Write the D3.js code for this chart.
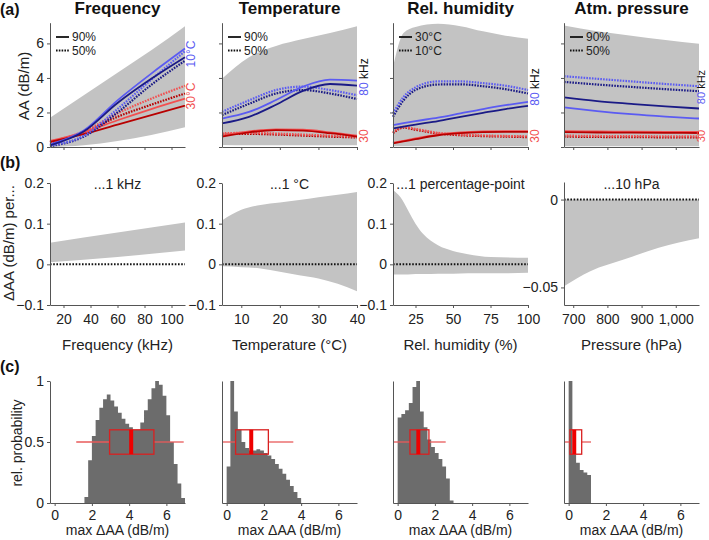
<!DOCTYPE html>
<html><head><meta charset="utf-8">
<script src="https://cdn.jsdelivr.net/npm/d3@7"></script>
<style>
body{margin:0;background:#fff;}
text{font-family:"Liberation Sans",Arial,Helvetica,sans-serif;}
</style>
</head><body>
<svg id="c" width="709" height="540"></svg>
<script>
// ---------------- DATA ----------------
const panelTitles = ["Frequency", "Temperature", "Rel. humidity", "Atm. pressure"];
const rowBSubtitles = ["...1 kHz", "...1 °C", "...1 percentage-point", "...10 hPa"];
const rowBXTitles = ["Frequency (kHz)", "Temperature (°C)", "Rel. humidity (%)", "Pressure (hPa)"];

// x ticks
const freqTicks = [20, 40, 60, 80, 100];
const tempTicks = [10, 20, 30, 40];
const humTicks = [25, 50, 75, 100];
const presTicks = [700, 800, 900, 1000];
const aaTicks = [0, 2, 4, 6];
const dAATicks = [-0.1, 0, 0.1, 0.2];
const dAAPresTicks = [-0.05, 0];
const probTicks = [0, 0.5, 1];
const maxDAATicks = [0, 2, 4, 6];

// ----- row (a): Frequency panel (blue = 10°C, red = 30°C; solid 90%, dotted 50%)
const freqKHz = [10, 35, 60, 85, 110];
const freqBlueLightSolid = [0.15, 0.95, 2.7, 4.25, 5.7];
const freqNavySolid = [0.1, 0.9, 2.55, 3.95, 5.2];
const freqBlueLightDot = [0.1, 0.65, 2.2, 3.9, 5.55];
const freqNavyDot = [0.05, 0.6, 2.0, 3.6, 5.0];
const freqRedLightSolid = [0.35, 0.85, 1.55, 2.2, 2.8];
const freqRedDarkSolid = [0.3, 0.75, 1.3, 1.85, 2.4];
const freqRedLightDot = [0.3, 0.9, 1.95, 2.8, 3.55];
const freqRedDarkDot = [0.25, 0.85, 1.75, 2.45, 3.1];
const freqBandUpper = [1.7, 3.0, 4.3, 5.6, 7.0];
const freqBandLower = [0.0, 0.1, 0.35, 0.7, 1.15];

// ----- row (a): Temperature panel (blue = 80 kHz, red = 30 kHz)
const tempC = [5, 12, 19, 26, 33, 40];
const tempNavySolid = [1.37, 1.75, 2.45, 3.25, 3.65, 3.55];
const tempBlueLightSolid = [1.65, 2.03, 2.72, 3.5, 3.9, 3.85];
const tempBlueLightDot = [2.04, 2.7, 3.3, 3.5, 3.3, 3.0];
const tempNavyDot = [1.85, 2.5, 3.1, 3.3, 3.1, 2.78];
const tempRedDarkSolid = [0.6, 0.85, 0.98, 0.95, 0.8, 0.6];
const tempRedLightSolid = [0.65, 0.9, 1.02, 1.0, 0.85, 0.65];
const tempRedLightDot = [0.8, 0.82, 0.78, 0.72, 0.66, 0.6];
const tempRedDarkDot = [0.75, 0.76, 0.72, 0.66, 0.6, 0.55];
const tempBandUpper = [3.95, 5.2, 5.85, 6.25, 6.6, 7.0];
const tempBandLower = [0.12, 0.1, 0.1, 0.1, 0.1, 0.1];

// ----- row (a): Rel. humidity panel (solid 30°C, dotted 10°C)
const humPct = [10, 17, 25, 40, 55, 70, 85, 100];
const humBlueLightDot = [1.94, 2.9, 3.45, 3.8, 3.8, 3.7, 3.55, 3.3];
const humNavyDot = [1.75, 2.7, 3.3, 3.62, 3.63, 3.52, 3.35, 3.1];
const humBlueLightSolid = [1.27, 1.38, 1.5, 1.7, 1.95, 2.2, 2.42, 2.62];
const humNavySolid = [1.08, 1.18, 1.3, 1.5, 1.75, 1.98, 2.2, 2.38];
const humRedDarkSolid = [0.21, 0.32, 0.45, 0.68, 0.8, 0.86, 0.88, 0.88];
const humRedLightSolid = [0.25, 0.36, 0.5, 0.72, 0.84, 0.9, 0.92, 0.92];
const humRedLightDot = [0.85, 1.17, 1.05, 0.82, 0.72, 0.67, 0.64, 0.62];
const humRedDarkDot = [0.8, 1.12, 1.0, 0.78, 0.68, 0.63, 0.6, 0.57];
const humBandUpper = [4.63, 6.6, 6.95, 7.14, 7.0, 6.7, 6.45, 6.27];
const humBandLower = [0.05, 0.05, 0.05, 0.05, 0.05, 0.05, 0.05, 0.05];

// ----- row (a): Atm. pressure panel
const presHPa = [673, 770, 870, 970, 1068];
const presBlueLightDot = [4.1, 3.95, 3.8, 3.65, 3.52];
const presNavyDot = [3.77, 3.62, 3.48, 3.35, 3.23];
const presNavySolid = [2.87, 2.66, 2.5, 2.35, 2.23];
const presBlueLightSolid = [2.29, 2.08, 1.9, 1.76, 1.65];
const presRedLightSolid = [0.92, 0.9, 0.89, 0.88, 0.87];
const presRedDarkSolid = [0.86, 0.84, 0.83, 0.82, 0.81];
const presRedLightDot = [0.66, 0.64, 0.63, 0.62, 0.61];
const presRedDarkDot = [0.6, 0.58, 0.57, 0.56, 0.55];
const presBandUpper = [7.04, 6.7, 6.45, 6.2, 5.98];
const presBandLower = [0.05, 0.05, 0.05, 0.05, 0.05];

// ----- row (b): sensitivity bands
const bFreqX = [10, 60, 110];
const bFreqUpper = [0.053, 0.078, 0.103];
const bFreqLower = [0.005, 0.018, 0.034];
const bTempX = [5, 10, 15, 20, 25, 30, 35, 40];
const bTempUpper = [0.108, 0.134, 0.146, 0.152, 0.158, 0.165, 0.171, 0.178];
const bTempLower = [-0.005, -0.007, -0.01, -0.018, -0.027, -0.035, -0.048, -0.066];
const bHumX = [10, 15, 20, 25, 30, 40, 50, 60, 75, 100];
const bHumUpper = [0.182, 0.165, 0.133, 0.1, 0.075, 0.047, 0.033, 0.025, 0.018, 0.016];
const bHumLower = [-0.025, -0.025, -0.025, -0.024, -0.024, -0.023, -0.023, -0.022, -0.022, -0.021];
const bPresX = [673, 750, 850, 950, 1068];
const bPresUpper = [0, 0, 0, 0, 0];
const bPresLower = [-0.0494, -0.0408, -0.034, -0.0274, -0.022];

// ----- row (c): histograms (bin left edges, width 0.2) and box plots
const histBinWidth = 0.2;
const histFreqBins = [1.6,1.8,2.0,2.2,2.4,2.6,2.8,3.0,3.2,3.4,3.6,3.8,4.0,4.2,4.4,4.6,4.8,5.0,5.2,5.4,5.6,5.8,6.0,6.2,6.4,6.6,6.8];
const histFreqProb = [0.05,0.35,0.55,0.68,0.78,0.85,0.89,0.84,0.79,0.74,0.69,0.65,0.62,0.60,0.60,0.66,0.76,0.85,0.94,1.0,0.97,0.88,0.72,0.50,0.32,0.16,0.04];
const histTempBins = [0.0,0.2,0.4,0.6,0.8,1.0,1.2,1.4,1.6,1.8,2.0,2.2,2.4,2.6,2.8,3.0,3.2,3.4,3.6,3.8];
const histTempProb = [0.3,1.0,0.75,0.6,0.5,0.45,0.43,0.43,0.44,0.43,0.41,0.39,0.36,0.32,0.28,0.24,0.19,0.14,0.09,0.04];
const histHumBins = [0.0,0.2,0.4,0.6,0.8,1.0,1.2,1.4,1.6,1.8,2.0,2.2,2.4,2.6,2.8];
const histHumProb = [0.7,0.73,0.76,0.82,0.95,1.0,0.75,0.62,0.52,0.46,0.41,0.36,0.30,0.2,0.02];
const histPresBins = [0.0,0.2,0.4,0.6,0.8,1.0];
const histPresProb = [1.0,0.4,0.33,0.27,0.25,0.23];
// box: [whiskerLow, q1, median, q3, whiskerHigh]
const boxFreq = [1.16, 2.95, 4.11, 5.33, 6.93];
const boxTemp = [-0.2, 0.48, 1.32, 2.24, 3.58];
const boxHum = [-0.22, 0.66, 1.11, 1.68, 2.58];
const boxPres = [-0.22, 0.07, 0.3, 0.7, 1.2];

// ---------------- LAYOUT ----------------
const svg = d3.select("#c");
const X0 = [50, 222, 393, 564];
const PW = 135;
const FONT = '"Liberation Sans",Arial,Helvetica,sans-serif';
const AXC = "#555";
const TXC = "#222";
const BAND = "#c3c3c3";
const NAVY = "#1a1a86", LBLUE = "#5b5bf2", DRED = "#b80000", LRED = "#f25050";

const xDomains = [[10, 110], [5, 40], [10, 100], [673, 1068]];
const xTicksAll = [freqTicks, tempTicks, humTicks, presTicks];

function styleAxis(sel, fs) {
  sel.select(".domain").attr("stroke", AXC).attr("stroke-width", 1);
  sel.selectAll(".tick line").attr("stroke", AXC);
  sel.selectAll(".tick text").attr("fill", TXC).style("font-size", fs + "px").style("font-family", FONT);
}
const fmtG = d => d === 0 ? "0" : d3.format("~g")(d).replace("-", "\u2212");

// ---------- ROW A ----------
const yA = d3.scaleLinear().domain([0, 7.2]).range([147, 22.7]);
const rowA = [
  {x: freqKHz, up: freqBandUpper, lo: freqBandLower,
   lines: [[freqRedDarkDot, DRED, 1], [freqRedLightDot, LRED, 1], [freqRedLightSolid, LRED, 0], [freqRedDarkSolid, DRED, 0],
           [freqNavyDot, NAVY, 1], [freqBlueLightDot, LBLUE, 1], [freqBlueLightSolid, LBLUE, 0], [freqNavySolid, NAVY, 0]]},
  {x: tempC, up: tempBandUpper, lo: tempBandLower,
   lines: [[tempRedDarkDot, DRED, 1], [tempRedLightDot, LRED, 1], [tempRedLightSolid, LRED, 0], [tempRedDarkSolid, DRED, 0],
           [tempNavyDot, NAVY, 1], [tempBlueLightDot, LBLUE, 1], [tempBlueLightSolid, LBLUE, 0], [tempNavySolid, NAVY, 0]]},
  {x: humPct, up: humBandUpper, lo: humBandLower,
   lines: [[humRedDarkDot, DRED, 1], [humRedLightDot, LRED, 1], [humRedLightSolid, LRED, 0], [humRedDarkSolid, DRED, 0],
           [humNavyDot, NAVY, 1], [humBlueLightDot, LBLUE, 1], [humBlueLightSolid, LBLUE, 0], [humNavySolid, NAVY, 0]]},
  {x: presHPa, up: presBandUpper, lo: presBandLower,
   lines: [[presRedDarkDot, DRED, 1], [presRedLightDot, LRED, 1], [presRedLightSolid, LRED, 0], [presRedDarkSolid, DRED, 0],
           [presNavyDot, NAVY, 1], [presBlueLightDot, LBLUE, 1], [presBlueLightSolid, LBLUE, 0], [presNavySolid, NAVY, 0]]}
];
const legendA = [["90%", "50%"], ["90%", "50%"], ["30°C", "10°C"], ["90%", "50%"]];

rowA.forEach((p, i) => {
  const x = d3.scaleLinear().domain(xDomains[i]).range([X0[i], X0[i] + PW]);
  const g = svg.append("g");
  const area = d3.area().x((d, k) => x(p.x[k])).y0((d, k) => yA(p.lo[k])).y1((d, k) => yA(p.up[k])).curve(d3.curveMonotoneX);
  g.append("path").attr("d", area(p.x)).attr("fill", BAND);
  p.lines.forEach(([vals, col, dot]) => {
    const line = d3.line().x((d, k) => x(p.x[k])).y(d => yA(d)).curve(d3.curveMonotoneX);
    g.append("path").attr("d", line(vals)).attr("fill", "none").attr("stroke", col)
      .attr("stroke-width", dot ? 2.2 : 1.8).attr("stroke-dasharray", dot ? "1.6,1.2" : null);
  });
  const xa = d3.axisBottom(x).tickValues(xTicksAll[i]).tickSize(3).tickSizeOuter(0).tickFormat("");
  styleAxis(g.append("g").attr("transform", `translate(0,${yA(0)})`).call(xa), 13);
  const ya = d3.axisLeft(yA).tickValues(aaTicks).tickSize(3).tickSizeOuter(0).tickPadding(3)
    .tickFormat(i === 0 ? fmtG : "");
  styleAxis(g.append("g").attr("transform", `translate(${X0[i]},0)`).call(ya), 14);
  // title
  svg.append("text").attr("x", X0[i] + PW / 2).attr("y", 14).attr("text-anchor", "middle")
    .attr("font-weight", "bold").attr("font-size", 17).attr("fill", "#111").text(panelTitles[i]);
  // legend
  const lx = X0[i] + 6;
  [0, 1].forEach(k => {
    const ly = 37 + k * 13.5;
    g.append("line").attr("x1", lx).attr("x2", lx + 13).attr("y1", ly).attr("y2", ly)
      .attr("stroke", "#111").attr("stroke-width", k ? 2.2 : 1.8).attr("stroke-dasharray", k ? "1.6,1.2" : null);
    g.append("text").attr("x", lx + 16).attr("y", ly + 4.3).attr("font-size", 12).attr("fill", TXC).text(legendA[i][k]);
  });
});

// right-side rotated labels, row A
function rotText(x, y, fs) {
  return svg.append("text").attr("transform", `translate(${x},${y}) rotate(-90)`).attr("text-anchor", "middle").attr("font-size", fs || 12);
}
rotText(195, 54).attr("fill", LBLUE).text("10°C");
rotText(195, 96).attr("fill", LRED).text("30°C");
const kHzY = [77, 87, 87];
const kHzX = [368, 539, 705];
[1, 2, 3].forEach((i, j) => {
  const fs = j === 2 ? 11 : 12;
  const t = rotText(kHzX[j], kHzY[j], fs);
  t.append("tspan").attr("fill", LBLUE).text("80");
  t.append("tspan").attr("fill", "#111").text(" kHz");
  rotText(kHzX[j], 136, fs).attr("fill", LRED).text("30");
});
svg.append("text").attr("transform", "translate(29,86) rotate(-90)").attr("text-anchor", "middle")
  .attr("font-size", 15).attr("fill", TXC).text("AA (dB/m)");

// ---------- ROW B ----------
const yB = d3.scaleLinear().domain([-0.1, 0.2]).range([305, 183]);
const yBP = d3.scaleLinear().domain([-0.06, 0.01]).range([305, 182]);
const rowB = [
  {x: bFreqX, up: bFreqUpper, lo: bFreqLower, y: yB, yt: dAATicks},
  {x: bTempX, up: bTempUpper, lo: bTempLower, y: yB, yt: dAATicks},
  {x: bHumX, up: bHumUpper, lo: bHumLower, y: yB, yt: dAATicks},
  {x: bPresX, up: bPresUpper, lo: bPresLower, y: yBP, yt: dAAPresTicks}
];
rowB.forEach((p, i) => {
  const x = d3.scaleLinear().domain(xDomains[i]).range([X0[i], X0[i] + PW]);
  const g = svg.append("g");
  const area = d3.area().x((d, k) => x(p.x[k])).y0((d, k) => p.y(p.lo[k])).y1((d, k) => p.y(p.up[k])).curve(d3.curveMonotoneX);
  g.append("path").attr("d", area(p.x)).attr("fill", BAND);
  g.append("line").attr("x1", x.range()[0]).attr("x2", x.range()[1]).attr("y1", p.y(0)).attr("y2", p.y(0))
    .attr("stroke", "#111").attr("stroke-width", 2).attr("stroke-dasharray", "1.6,1.6");
  const xa = d3.axisBottom(x).tickValues(xTicksAll[i]).tickSize(3).tickSizeOuter(0).tickPadding(6)
    .tickFormat(i === 3 ? d3.format(",") : fmtG);
  styleAxis(g.append("g").attr("transform", `translate(0,${p.y.range()[0]})`).call(xa), 14);
  const ya = d3.axisLeft(p.y).tickValues(p.yt).tickSize(3).tickSizeOuter(0).tickPadding(3).tickFormat(fmtG);
  styleAxis(g.append("g").attr("transform", `translate(${X0[i]},0)`).call(ya), 14);
  svg.append("text").attr("x", X0[i] + PW / 2).attr("y", 189).attr("text-anchor", "middle")
    .attr("font-size", 14).attr("fill", TXC).text(rowBSubtitles[i]);
  svg.append("text").attr("x", X0[i] + PW / 2).attr("y", 350).attr("text-anchor", "middle")
    .attr("font-size", 15).attr("fill", TXC).text(rowBXTitles[i]);
});
svg.append("text").attr("transform", "translate(14,243) rotate(-90)").attr("text-anchor", "middle")
  .attr("font-size", 15).attr("fill", TXC).text("ΔAA (dB/m) per...");

// ---------- ROW C ----------
const yC = d3.scaleLinear().domain([0, 1]).range([503, 381]);
const rowC = [
  {bins: histFreqBins, prob: histFreqProb, box: boxFreq},
  {bins: histTempBins, prob: histTempProb, box: boxTemp},
  {bins: histHumBins, prob: histHumProb, box: boxHum},
  {bins: histPresBins, prob: histPresProb, box: boxPres}
];
rowC.forEach((p, i) => {
  const x = d3.scaleLinear().domain([-0.25, 7]).range([X0[i], X0[i] + PW]);
  const g = svg.append("g");
  const pts = p.bins.map((b, k) => [b, Math.min(1, p.prob[k])]);
  pts.push([p.bins[p.bins.length - 1] + histBinWidth, 0]);
  const area = d3.area().x(d => x(d[0])).y0(yC(0)).y1(d => yC(d[1])).curve(d3.curveStepAfter);
  g.append("path").attr("d", area(pts)).attr("fill", "#6c6c6c");
  const [wl, q1, md, q3, wh] = p.box;
  const xl = v => Math.max(x.range()[0], x(v));
  g.append("line").attr("x1", xl(wl)).attr("x2", x(q1)).attr("y1", yC(0.5)).attr("y2", yC(0.5)).attr("stroke", "#e85a5a").attr("stroke-width", 1.3);
  g.append("line").attr("x1", x(q3)).attr("x2", x(wh)).attr("y1", yC(0.5)).attr("y2", yC(0.5)).attr("stroke", "#e85a5a").attr("stroke-width", 1.3);
  g.append("rect").attr("x", x(q1)).attr("y", yC(0.6)).attr("width", x(q3) - x(q1)).attr("height", yC(0.4) - yC(0.6))
    .attr("fill", "none").attr("stroke", "#d92020").attr("stroke-width", 1.3);
  g.append("line").attr("x1", x(md)).attr("x2", x(md)).attr("y1", yC(0.6)).attr("y2", yC(0.4)).attr("stroke", "#ee0000").attr("stroke-width", 4);
  const xa = d3.axisBottom(x).tickValues(maxDAATicks).tickSize(3).tickSizeOuter(0).tickPadding(4).tickFormat(fmtG);
  styleAxis(g.append("g").attr("transform", `translate(0,${yC(0)})`).call(xa), 14);
  const ya = d3.axisLeft(yC).tickValues(i === 0 ? probTicks : []).tickSize(3).tickSizeOuter(0).tickPadding(3).tickFormat(fmtG);
  styleAxis(g.append("g").attr("transform", `translate(${X0[i]},0)`).call(ya), 14);
  svg.append("text").attr("x", X0[i] + PW / 2).attr("y", 535).attr("text-anchor", "middle")
    .attr("font-size", 14).attr("fill", TXC).text("max ΔAA (dB/m)");
});
svg.append("text").attr("transform", "translate(22,443) rotate(-90)").attr("text-anchor", "middle")
  .attr("font-size", 14).attr("fill", TXC).text("rel. probability");

// panel letters
[["(a)", 15], ["(b)", 168], ["(c)", 372]].forEach(([t, y]) => {
  svg.append("text").attr("x", 0).attr("y", y).attr("font-weight", "bold").attr("font-size", 16).attr("fill", "#111").text(t);
});
</script>
</body></html>
